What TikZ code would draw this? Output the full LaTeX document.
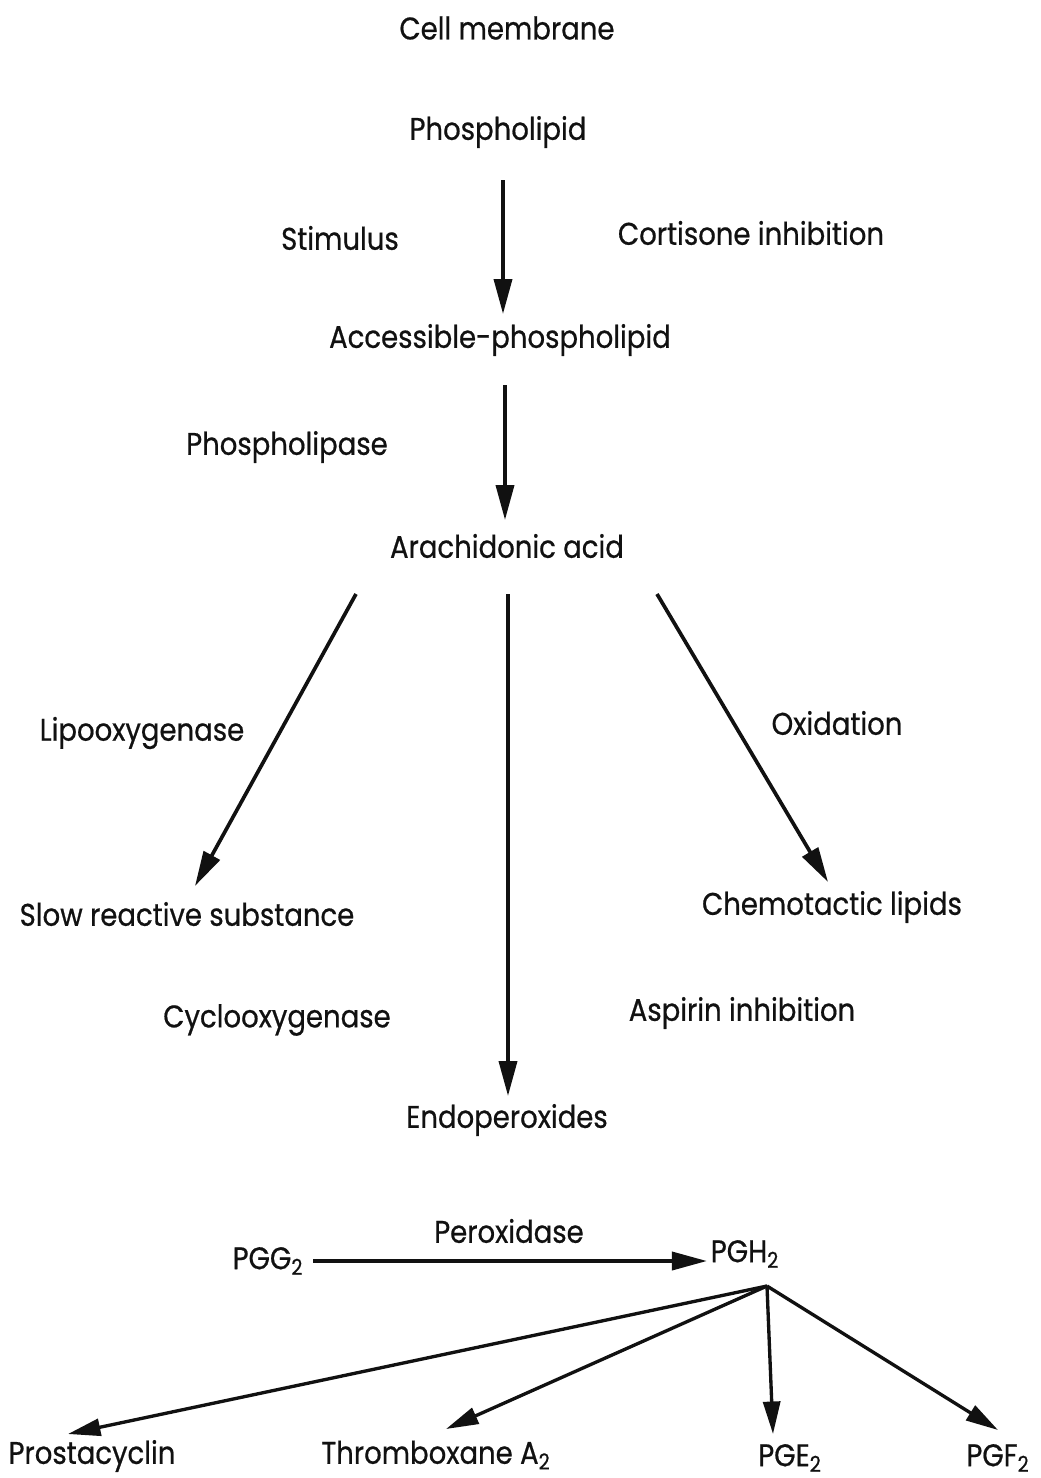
\documentclass[tikz,border=0pt]{standalone}
\usepackage{fontspec}
\setmainfont{Poppins}[FakeStretch=0.88,FakeBold=0.6]
\usepackage{tikz}
\usetikzlibrary{arrows.meta,positioning,calc}
\definecolor{tinta}{HTML}{111111}

\begin{document}
\begin{tikzpicture}[x=0.02cm,y=-0.02cm,
  font=\fontsize{17.8}{21}\selectfont,
  texto/.style={text=tinta,inner sep=2pt},
  flecha/.style={-{Triangle[length=7mm,width=3.6mm]},line width=2.1pt,draw=tinta},
  flechafina/.style={-{Triangle[length=6.5mm,width=3.4mm]},line width=1.9pt,draw=tinta}]
\useasboundingbox (0,0) rectangle (1041,1478);
\node[texto] (membrana) at (507,28) {Cell membrane};
\node[texto] (fosfo) at (498,132) {Phospholipid};
\node[texto] (estimulo) at (340,238) {Stimulus};
\node[texto] (cortisona) at (751,233) {Cortisone inhibition};
\node[texto] (accesible) at (500,340) {Accessible-phospholipid};
\node[texto] (fosfolipasa) at (287,447) {Phospholipase};
\node[texto] (araq) at (507,546) {Arachidonic acid};
\node[texto] (lipo) at (142,733) {Lipooxygenase};
\node[texto] (oxida) at (837,723) {Oxidation};
\node[texto] (lenta) at (187,914) {Slow reactive substance};
\node[texto] (quimio) at (832,907) {Chemotactic lipids};
\node[texto] (ciclo) at (277,1020) {Cyclooxygenase};
\node[texto] (aspirina) at (742,1013) {Aspirin inhibition};
\node[texto] (endo) at (507,1120) {Endoperoxides};
\node[texto] (pgg) at (268,1261) {PGG\textsubscript{2}};
\node[texto] (peroxi) at (509,1231) {Peroxidase};
\node[texto] (pgh) at (745,1254) {PGH\textsubscript{2}};
\node[texto] (prosta) at (92,1456) {Prostacyclin};
\node[texto] (tromb) at (436,1455) {Thromboxane A\textsubscript{2}};
\node[texto] (pge) at (790,1458) {PGE\textsubscript{2}};
\node[texto] (pgf) at (998,1458) {PGF\textsubscript{2}};
\coordinate (a1) at (503,180);
\coordinate (b1) at (503,314);
\coordinate (a2) at (505,385);
\coordinate (b2) at (505,520);
\coordinate (izq0) at (356,594);
\coordinate (izq1) at (195,886);
\coordinate (cen0) at (508,594);
\coordinate (cen1) at (508,1096);
\coordinate (der0) at (657,594);
\coordinate (der1) at (828,882);
\coordinate (vertice) at (767,1286);
\coordinate (f1) at (68,1434);
\coordinate (f2) at (446,1429);
\coordinate (f3) at (773,1434);
\coordinate (f4) at (998,1430);
\draw[flecha] (a1) -- (b1);
\draw[flecha] (a2) -- (b2);
\draw[flecha] (izq0) -- (izq1);
\draw[flecha] (cen0) -- (cen1);
\draw[flecha] (der0) -- (der1);
\draw[flecha] (pgg.east) ++(6,0) coordinate (h0) -- (h0 -| pgh.west);
\draw[flechafina] (vertice) -- (f1);
\draw[flechafina] (vertice) -- (f2);
\draw[flechafina] (vertice) -- (f3);
\draw[flechafina] (vertice) -- (f4);
\end{tikzpicture}
\end{document}
